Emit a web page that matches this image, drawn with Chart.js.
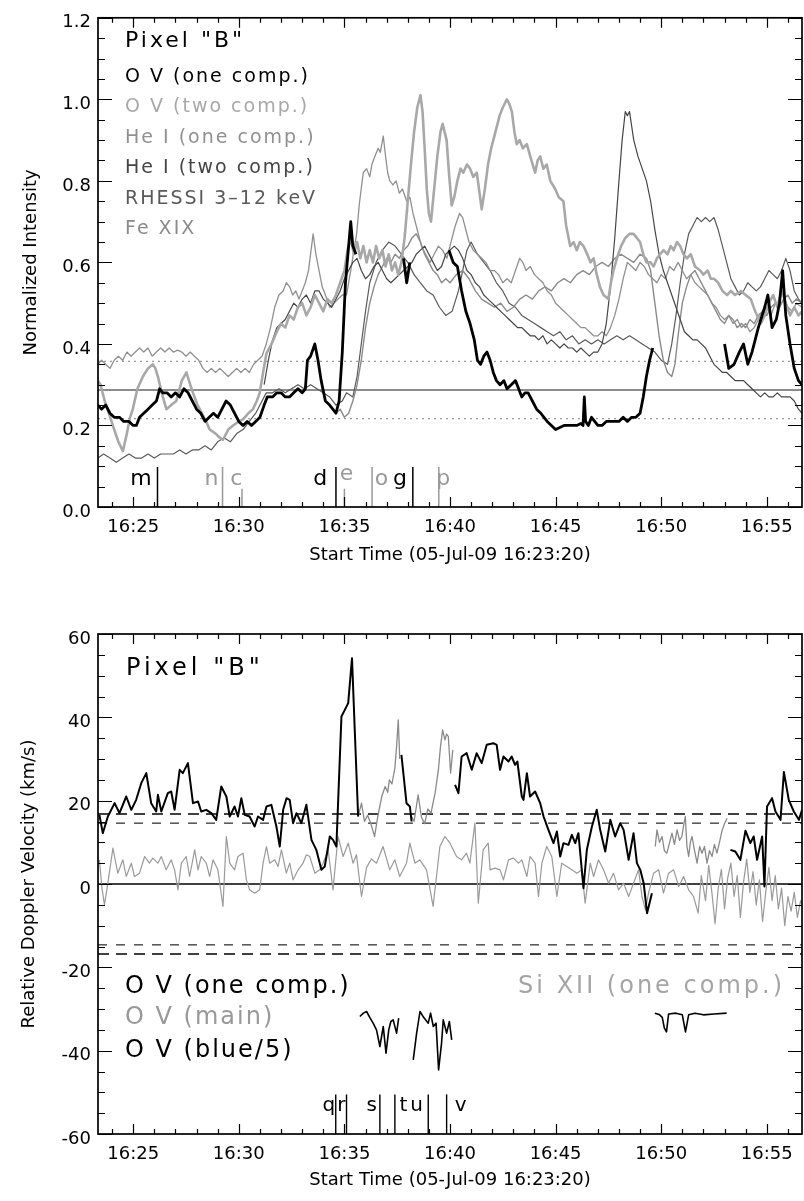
<!DOCTYPE html>
<html><head><meta charset="utf-8">
<script src="https://cdn.jsdelivr.net/npm/chart.js@4.4.1/dist/chart.umd.min.js"></script>
<style>
html,body{margin:0;padding:0;background:#fff;}
#wrap{position:relative;width:804px;height:1201px;overflow:hidden;background:#fff;}
.pane{position:absolute;left:0;}
canvas{display:block;}
</style></head><body>
<div id="wrap">
<div class="pane" style="top:0"><canvas id="topC" width="804" height="600"></canvas></div>
<div class="pane" style="top:600px"><canvas id="botC" width="804" height="601"></canvas></div>
</div>
<script>
// ---------- axis ranges / ticks (minutes after 16:00) ----------
const tStart = 23.333, tEnd = 56.667;
const xMajorTicks = [25,30,35,40,45,50,55];
const xMinorTicks = [24,26,27,28,29,31,32,33,34,36,37,38,39,41,42,43,44,46,47,48,49,51,52,53,54,56];
const xTickLabels = ['16:25','16:30','16:35','16:40','16:45','16:50','16:55'];
const xTitle = 'Start Time (05-Jul-09 16:23:20)';
const topYMajor = [0,0.2,0.4,0.6,0.8,1.0,1.2];
const topYMinor = [0.05,0.1,0.15,0.25,0.3,0.35,0.45,0.5,0.55,0.65,0.7,0.75,0.85,0.9,0.95,1.05,1.1,1.15];
const botYMajor = [-60,-40,-20,0,20,40,60];
const botYMinor = [-55,-50,-45,-35,-30,-25,-15,-10,-5,5,10,15,25,30,35,45,50,55];

// ---------- top panel: normalized intensity ----------
const ovOne = [[23.33,0.25],[23.5,0.24],[23.7,0.25],[23.9,0.23],[24.1,0.22],[24.35,0.22],[24.55,0.21],[24.8,0.21],[25.0,0.20],[25.15,0.20],[25.3,0.22],[25.5,0.23],[25.7,0.24],[25.9,0.25],[26.1,0.26],[26.25,0.29],[26.4,0.28],[26.6,0.28],[26.8,0.27],[27.0,0.28],[27.2,0.27],[27.4,0.29],[27.6,0.28],[27.8,0.26],[28.0,0.24],[28.2,0.23],[28.4,0.21],[28.6,0.22],[28.8,0.23],[29.0,0.22],[29.2,0.24],[29.4,0.26],[29.6,0.25],[29.8,0.23],[30.0,0.21],[30.2,0.20],[30.4,0.21],[30.6,0.20],[30.8,0.21],[31.0,0.22],[31.2,0.25],[31.35,0.27],[31.6,0.27],[31.8,0.28],[32.0,0.28],[32.2,0.27],[32.4,0.27],[32.6,0.28],[32.8,0.29],[33.0,0.28],[33.15,0.29],[33.25,0.36],[33.4,0.37],[33.6,0.40],[33.75,0.36],[33.9,0.31],[34.1,0.26],[34.3,0.25],[34.45,0.24],[34.6,0.23],[34.75,0.26],[34.9,0.38],[35.05,0.55],[35.2,0.64],[35.3,0.70],[35.4,0.64],[35.55,0.62],[35.6,null],[37.8,0.61],[37.95,0.55],[38.1,0.60],[38.15,null],[39.95,0.63],[40.15,0.60],[40.35,0.59],[40.55,0.53],[40.75,0.48],[40.95,0.45],[41.15,0.41],[41.3,0.36],[41.45,0.35],[41.6,0.37],[41.75,0.38],[41.9,0.36],[42.05,0.33],[42.2,0.31],[42.37,0.30],[42.55,0.31],[42.7,0.29],[42.9,0.30],[43.1,0.31],[43.25,0.29],[43.4,0.27],[43.55,0.28],[43.7,0.28],[43.9,0.26],[44.1,0.24],[44.3,0.23],[44.45,0.22],[44.6,0.21],[44.8,0.20],[45.0,0.19],[45.2,0.195],[45.4,0.20],[45.6,0.20],[45.8,0.20],[46.0,0.20],[46.2,0.205],[46.3,0.20],[46.36,0.27],[46.42,0.21],[46.55,0.20],[46.7,0.22],[46.85,0.21],[47.0,0.20],[47.2,0.20],[47.4,0.21],[47.6,0.21],[47.8,0.21],[48.0,0.21],[48.2,0.22],[48.4,0.21],[48.6,0.22],[48.8,0.22],[49.0,0.23],[49.15,0.27],[49.3,0.32],[49.45,0.36],[49.6,0.39],[49.7,null],[53.0,0.40],[53.2,0.34],[53.45,0.35],[53.7,0.38],[53.9,0.40],[54.1,0.35],[54.3,0.38],[54.6,0.44],[54.9,0.49],[55.05,0.52],[55.25,0.44],[55.45,0.46],[55.6,0.50],[55.75,0.58],[55.9,0.47],[56.1,0.40],[56.3,0.34],[56.5,0.31],[56.67,0.30]];

const ovTwo = [[23.33,0.31],[23.45,0.30],[23.65,0.26],[23.88,0.225],[24.1,0.19],[24.3,0.16],[24.51,0.137],[24.7,0.18],[24.85,0.22],[24.98,0.24],[25.2,0.29],[25.46,0.32],[25.7,0.34],[25.93,0.35],[26.05,0.34],[26.17,0.32],[26.35,0.28],[26.57,0.24],[26.8,0.25],[27.04,0.26],[27.3,0.31],[27.52,0.33],[27.7,0.30],[27.83,0.28],[28.05,0.25],[28.3,0.225],[28.45,0.21],[28.62,0.19],[28.9,0.18],[29.1,0.17],[29.25,0.165],[29.5,0.19],[29.73,0.20],[30.0,0.21],[30.2,0.215],[30.45,0.23],[30.67,0.24],[30.85,0.26],[30.99,0.28],[31.15,0.33],[31.31,0.377],[31.55,0.40],[31.8,0.43],[32.0,0.45],[32.2,0.44],[32.4,0.47],[32.6,0.46],[32.8,0.49],[33.0,0.50],[33.2,0.47],[33.4,0.49],[33.6,0.52],[33.8,0.50],[34.0,0.48],[34.2,0.51],[34.4,0.50],[34.6,0.52],[34.8,0.55],[35.0,0.58],[35.15,0.63],[35.3,0.66],[35.45,0.62],[35.6,0.65],[35.75,0.61],[35.9,0.64],[36.05,0.60],[36.2,0.63],[36.35,0.60],[36.5,0.64],[36.65,0.61],[36.8,0.63],[36.95,0.59],[37.1,0.62],[37.25,0.58],[37.4,0.60],[37.55,0.57],[37.7,0.60],[37.85,0.66],[38.0,0.75],[38.15,0.84],[38.3,0.92],[38.45,0.98],[38.6,1.01],[38.7,0.97],[38.8,0.88],[38.9,0.78],[39.0,0.72],[39.1,0.70],[39.25,0.78],[39.4,0.86],[39.55,0.92],[39.65,0.94],[39.84,0.90],[39.95,0.82],[40.08,0.74],[40.2,0.76],[40.35,0.80],[40.5,0.83],[40.63,0.82],[40.8,0.84],[40.95,0.83],[41.1,0.81],[41.27,0.82],[41.4,0.77],[41.5,0.73],[41.65,0.78],[41.8,0.84],[41.95,0.88],[42.05,0.90],[42.2,0.93],[42.35,0.96],[42.5,0.98],[42.69,1.00],[42.8,0.99],[42.93,0.97],[43.05,0.92],[43.16,0.89],[43.3,0.90],[43.45,0.88],[43.64,0.89],[43.8,0.86],[44.03,0.82],[44.15,0.85],[44.27,0.86],[44.42,0.83],[44.58,0.84],[44.75,0.80],[44.98,0.78],[45.15,0.76],[45.37,0.75],[45.5,0.69],[45.69,0.64],[45.85,0.65],[46.0,0.63],[46.15,0.65],[46.32,0.64],[46.5,0.62],[46.65,0.60],[46.8,0.61],[46.95,0.57],[47.1,0.54],[47.27,0.52],[47.5,0.51],[47.62,0.55],[47.74,0.58],[47.9,0.61],[48.1,0.64],[48.3,0.66],[48.5,0.67],[48.69,0.67],[48.85,0.66],[49.0,0.65],[49.15,0.62],[49.3,0.60],[49.5,0.60],[49.64,0.59],[49.8,0.61],[49.95,0.62],[50.11,0.63],[50.3,0.62],[50.45,0.64],[50.59,0.63],[50.75,0.65],[50.9,0.64],[51.05,0.62],[51.22,0.61],[51.4,0.62],[51.6,0.59],[51.85,0.58],[52.0,0.57],[52.2,0.58],[52.35,0.56],[52.5,0.56],[52.7,0.55],[52.9,0.53],[53.12,0.52],[53.3,0.53],[53.5,0.52],[53.77,0.53],[54.0,0.52],[54.24,0.51],[54.45,0.48],[54.72,0.45],[54.9,0.47],[55.1,0.50],[55.3,0.52],[55.5,0.49],[55.7,0.53],[55.9,0.50],[56.1,0.47],[56.3,0.49],[56.5,0.47],[56.67,0.48]];

const heOne = [[23.33,0.35],[23.5,0.36],[23.7,0.35],[23.9,0.34],[24.1,0.36],[24.3,0.37],[24.5,0.36],[24.7,0.38],[24.9,0.37],[25.1,0.38],[25.3,0.39],[25.5,0.38],[25.7,0.39],[25.9,0.37],[26.1,0.38],[26.3,0.39],[26.5,0.38],[26.7,0.39],[26.9,0.38],[27.1,0.385],[27.3,0.38],[27.5,0.37],[27.7,0.38],[27.9,0.37],[28.1,0.36],[28.3,0.34],[28.5,0.33],[28.7,0.34],[28.9,0.33],[29.1,0.34],[29.3,0.33],[29.5,0.32],[29.7,0.33],[29.9,0.34],[30.1,0.33],[30.3,0.34],[30.5,0.33],[30.7,0.35],[30.9,0.36],[31.1,0.37],[31.3,0.40],[31.5,0.44],[31.7,0.49],[31.9,0.52],[32.1,0.53],[32.25,0.55],[32.41,0.54],[32.55,0.52],[32.7,0.53],[32.85,0.51],[33.0,0.53],[33.15,0.55],[33.3,0.58],[33.52,0.67],[33.65,0.62],[33.8,0.58],[33.95,0.54],[34.1,0.52],[34.31,0.49],[34.5,0.50],[34.7,0.51],[34.9,0.52],[35.1,0.52],[35.3,0.58],[35.45,0.63],[35.58,0.67],[35.7,0.74],[35.89,0.82],[36.05,0.83],[36.2,0.81],[36.3,0.84],[36.44,0.86],[36.6,0.88],[36.7,0.87],[36.84,0.91],[36.95,0.86],[37.05,0.82],[37.15,0.80],[37.3,0.79],[37.45,0.80],[37.6,0.77],[37.75,0.78],[37.95,0.75],[38.1,0.76],[38.25,0.72],[38.45,0.68],[38.65,0.64],[38.85,0.62],[39.05,0.60],[39.25,0.62],[39.45,0.64],[39.65,0.63],[39.85,0.61],[40.05,0.65],[40.25,0.69],[40.45,0.72],[40.6,0.71],[40.75,0.68],[40.9,0.65],[41.1,0.63],[41.3,0.62],[41.5,0.61],[41.7,0.60],[41.9,0.58],[42.1,0.58],[42.3,0.57],[42.5,0.55],[42.7,0.56],[42.9,0.55],[43.1,0.58],[43.3,0.61],[43.45,0.60],[43.6,0.58],[43.8,0.59],[44.0,0.57],[44.2,0.56],[44.4,0.55],[44.6,0.53],[44.8,0.52],[45.0,0.50],[45.2,0.49],[45.4,0.48],[45.6,0.47],[45.8,0.46],[46.0,0.45],[46.2,0.44],[46.4,0.44],[46.6,0.43],[46.8,0.42],[47.0,0.42],[47.2,0.43],[47.4,0.42],[47.6,0.44],[47.8,0.47],[48.0,0.51],[48.2,0.56],[48.4,0.60],[48.6,0.59],[48.8,0.58],[49.0,0.60],[49.2,0.59],[49.4,0.57],[49.6,0.56],[49.8,0.55],[50.0,0.57],[50.2,0.56],[50.4,0.59],[50.6,0.58],[50.8,0.60],[51.0,0.58],[51.2,0.56],[51.4,0.57],[51.6,0.55],[51.8,0.54],[52.0,0.53],[52.2,0.52],[52.4,0.50],[52.6,0.49],[52.8,0.47],[53.0,0.46],[53.2,0.47],[53.4,0.45],[53.6,0.46],[53.8,0.44],[54.0,0.45],[54.2,0.43],[54.4,0.44],[54.6,0.46],[54.8,0.48],[55.0,0.49],[55.2,0.47],[55.4,0.50],[55.6,0.49],[55.8,0.51],[56.0,0.49],[56.2,0.48],[56.4,0.50],[56.67,0.49]];

const heTwo = [[31.2,0.30],[31.4,0.36],[31.6,0.41],[31.8,0.44],[32.0,0.45],[32.2,0.46],[32.4,0.48],[32.6,0.50],[32.8,0.49],[33.0,0.51],[33.2,0.52],[33.4,0.50],[33.6,0.53],[33.8,0.53],[34.0,0.51],[34.2,0.50],[34.4,0.49],[34.6,0.51],[34.8,0.53],[35.0,0.56],[35.2,0.58],[35.4,0.60],[35.6,0.61],[35.8,0.58],[36.0,0.56],[36.2,0.57],[36.4,0.59],[36.6,0.60],[36.8,0.58],[37.0,0.56],[37.2,0.55],[37.4,0.56],[37.6,0.57],[37.8,0.58],[38.0,0.59],[38.2,0.60],[38.4,0.62],[38.6,0.63],[38.8,0.64],[39.0,0.62],[39.2,0.60],[39.4,0.58],[39.6,0.59],[39.8,0.62],[40.0,0.63],[40.2,0.64],[40.4,0.63],[40.6,0.61],[40.8,0.58],[41.0,0.57],[41.2,0.55],[41.4,0.54],[41.6,0.52],[41.8,0.51],[42.0,0.50],[42.2,0.49],[42.4,0.48],[42.6,0.47],[42.8,0.46],[43.0,0.45],[43.2,0.44],[43.4,0.44],[43.6,0.43],[43.8,0.42],[44.0,0.42],[44.2,0.41],[44.4,0.42],[44.6,0.40],[44.8,0.41],[45.0,0.40],[45.2,0.39],[45.4,0.40],[45.6,0.39],[45.8,0.39],[46.0,0.38],[46.2,0.39],[46.4,0.38],[46.6,0.37],[46.8,0.38],[47.0,0.38],[47.2,0.40],[47.4,0.45],[47.6,0.54],[47.8,0.66],[48.0,0.80],[48.15,0.90],[48.3,0.97],[48.4,0.96],[48.5,0.97],[48.7,0.90],[48.9,0.86],[49.1,0.83],[49.3,0.80],[49.5,0.75],[49.7,0.68],[49.9,0.62],[50.1,0.58],[50.3,0.55],[50.5,0.52],[50.7,0.49],[50.9,0.46],[51.1,0.43],[51.3,0.42],[51.5,0.41],[51.7,0.41],[51.9,0.40],[52.1,0.39],[52.3,0.37],[52.5,0.35],[52.7,0.34],[52.9,0.33],[53.1,0.33],[53.3,0.32],[53.5,0.31],[53.7,0.31],[53.9,0.31],[54.1,0.30],[54.3,0.29],[54.5,0.28],[54.7,0.27],[54.9,0.28],[55.1,0.27],[55.3,0.27],[55.5,0.28],[55.7,0.27],[55.9,0.27],[56.1,0.27],[56.3,0.26],[56.5,0.24],[56.67,0.23]];

const rhessi = [[23.33,0.12],[23.6,0.13],[23.9,0.12],[24.2,0.11],[24.5,0.12],[24.8,0.13],[25.1,0.12],[25.4,0.12],[25.7,0.13],[26.0,0.12],[26.3,0.13],[26.6,0.13],[26.9,0.13],[27.2,0.14],[27.5,0.13],[27.8,0.14],[28.1,0.14],[28.4,0.15],[28.7,0.14],[29.0,0.16],[29.3,0.17],[29.6,0.16],[29.9,0.18],[30.2,0.19],[30.5,0.21],[30.8,0.23],[31.1,0.26],[31.3,0.28],[31.6,0.28],[31.9,0.29],[32.2,0.28],[32.5,0.29],[32.8,0.30],[33.1,0.29],[33.4,0.30],[33.7,0.29],[34.0,0.28],[34.3,0.27],[34.6,0.25],[34.9,0.26],[35.1,0.28],[35.4,0.27],[35.6,0.32],[35.8,0.40],[36.0,0.48],[36.2,0.55],[36.5,0.60],[36.8,0.63],[37.1,0.65],[37.4,0.64],[37.7,0.62],[38.0,0.60],[38.3,0.57],[38.6,0.55],[38.9,0.53],[39.2,0.52],[39.5,0.49],[39.8,0.47],[40.1,0.48],[40.4,0.53],[40.6,0.58],[40.8,0.63],[41.0,0.65],[41.3,0.62],[41.6,0.60],[41.9,0.58],[42.2,0.55],[42.5,0.53],[42.8,0.50],[43.1,0.49],[43.4,0.47],[43.7,0.46],[44.0,0.45],[44.3,0.44],[44.6,0.43],[44.9,0.42],[45.2,0.43],[45.5,0.41],[45.8,0.42],[46.1,0.40],[46.4,0.41],[46.7,0.40],[47.0,0.41],[47.3,0.40],[47.6,0.41],[47.9,0.42],[48.2,0.41],[48.5,0.42],[48.8,0.41],[49.1,0.40],[49.4,0.39],[49.7,0.38],[50.0,0.36],[50.3,0.35],[50.5,0.40],[50.7,0.47],[50.9,0.55],[51.1,0.62],[51.3,0.67],[51.5,0.69],[51.7,0.71],[51.9,0.70],[52.1,0.71],[52.3,0.70],[52.5,0.71],[52.7,0.68],[52.9,0.64],[53.1,0.60],[53.3,0.56],[53.5,0.54],[53.7,0.52],[53.9,0.53],[54.1,0.55],[54.3,0.54],[54.5,0.53],[54.7,0.54],[54.9,0.56],[55.1,0.58],[55.3,0.57],[55.5,0.56],[55.7,0.58],[55.9,0.61],[56.1,0.58],[56.3,0.53],[56.5,0.51],[56.67,0.50]];

const feXIX = [[34.6,0.23],[34.8,0.24],[35.0,0.22],[35.2,0.23],[35.4,0.26],[35.6,0.30],[35.8,0.36],[36.0,0.44],[36.2,0.50],[36.4,0.54],[36.6,0.57],[36.8,0.59],[37.0,0.61],[37.2,0.60],[37.4,0.62],[37.6,0.61],[37.8,0.63],[38.0,0.64],[38.2,0.66],[38.4,0.67],[38.6,0.65],[38.8,0.62],[39.0,0.60],[39.2,0.58],[39.4,0.57],[39.6,0.55],[39.8,0.56],[40.0,0.55],[40.3,0.57],[40.6,0.58],[40.9,0.56],[41.2,0.53],[41.5,0.51],[41.8,0.50],[42.1,0.49],[42.4,0.50],[42.7,0.48],[43.0,0.49],[43.3,0.51],[43.6,0.52],[43.9,0.51],[44.2,0.53],[44.5,0.54],[44.8,0.53],[45.1,0.55],[45.4,0.56],[45.7,0.55],[46.0,0.57],[46.3,0.58],[46.6,0.57],[46.9,0.59],[47.2,0.60],[47.5,0.59],[47.8,0.61],[48.1,0.62],[48.4,0.61],[48.7,0.60],[49.0,0.62],[49.3,0.61],[49.5,0.58],[49.7,0.50],[49.9,0.42],[50.1,0.36],[50.3,0.33],[50.5,0.32],[50.65,0.35],[50.8,0.42],[51.0,0.50],[51.2,0.54],[51.4,0.57],[51.6,0.58],[51.8,0.56],[52.0,0.54],[52.2,0.52],[52.4,0.50],[52.6,0.48],[52.8,0.46],[53.0,0.45],[53.2,0.47],[53.4,0.46],[53.6,0.44],[53.8,0.45],[54.0,0.44],[54.2,0.46],[54.4,0.45],[54.6,0.47],[54.8,0.48],[55.0,0.47],[55.2,0.49],[55.4,0.50],[55.6,0.49],[55.8,0.51],[56.0,0.52],[56.2,0.50],[56.4,0.51],[56.67,0.50]];

const topMeanLevel = [0.287];
const topSigmaLevels = [0.357, 0.217];

const topMarkLabels = ['m','n','c','d','e','o','g','p'];
const topMarkLabelT = [25.37,28.70,29.88,33.85,35.10,36.76,37.63,39.68];
const topMarkLabelV = [0.053,0.053,0.053,0.053,0.066,0.053,0.053,0.053];
const topMarkLineT = [26.15,29.23,30.15,34.60,35.00,36.31,38.24,39.47];
const topMarkLineTop = [0.098,0.098,0.045,0.098,0.045,0.098,0.098,0.098];

const topLegend = ['O V (one comp.)','O V (two comp.)','He I (one comp.)','He I (two comp.)','RHESSI 3\u201312 keV','Fe XIX'];

// ---------- bottom panel: Doppler velocity ----------
const velOne = [[23.40,16.6],[23.56,12.2],[23.80,16.2],[24.12,19.4],[24.35,17.0],[24.67,21.0],[24.91,17.8],[25.14,20.2],[25.38,24.2],[25.62,26.6],[25.85,19.4],[26.09,17.4],[26.17,21.4],[26.33,17.4],[26.64,21.8],[26.80,22.2],[26.96,17.8],[27.20,27.4],[27.35,26.6],[27.59,29.0],[27.83,19.4],[28.07,19.8],[28.22,17.4],[28.46,17.8],[28.70,17.0],[28.93,15.4],[29.17,23.4],[29.41,21.0],[29.57,16.2],[29.80,18.6],[29.96,16.2],[30.12,20.6],[30.28,16.6],[30.51,16.2],[30.75,13.8],[30.91,16.2],[31.15,15.4],[31.31,18.6],[31.54,19.0],[31.78,13.8],[31.94,9.0],[32.10,17.8],[32.26,20.6],[32.41,20.2],[32.57,14.6],[32.73,17.0],[32.96,14.6],[33.20,19.0],[33.44,10.6],[33.67,8.2],[33.91,3.4],[34.07,4.2],[34.31,11.4],[34.46,10.6],[34.62,9.0],[34.86,40.2],[35.02,41.8],[35.18,43.4],[35.36,54.2],[35.49,37.0],[35.65,16.2],[35.7,null],[37.70,31.0],[37.94,19.4],[38.10,18.6],[38.18,15.0],[38.2,null],[40.24,23.8],[40.40,21.8],[40.55,30.6],[40.79,31.4],[41.03,27.4],[41.26,31.4],[41.50,29.0],[41.74,33.4],[42.05,33.8],[42.21,33.4],[42.37,27.4],[42.53,30.6],[42.77,29.4],[42.92,30.6],[43.08,28.6],[43.19,29.4],[43.40,21.0],[43.48,20.2],[43.64,26.6],[43.79,21.0],[44.03,22.2],[44.27,19.4],[44.43,16.2],[44.66,13.0],[44.90,9.8],[45.06,12.6],[45.22,6.6],[45.37,9.8],[45.61,9.4],[45.77,11.8],[45.93,9.8],[46.08,12.2],[46.32,-1.0],[46.48,8.2],[46.72,13.8],[46.95,17.8],[47.11,13.0],[47.35,7.8],[47.59,15.4],[47.82,11.4],[48.06,14.6],[48.22,13.0],[48.46,5.8],[48.69,12.2],[48.85,5.0],[49.01,3.4],[49.17,0.2],[49.33,-7.0],[49.56,-2.2],[49.6,null],[53.28,8.2],[53.51,7.8],[53.75,5.8],[53.99,12.8],[54.22,9.8],[54.38,11.4],[54.54,5.8],[54.78,11.4],[54.89,-0.6],[55.01,18.6],[55.25,20.6],[55.41,17.4],[55.65,15.4],[55.81,26.9],[56.04,20.2],[56.28,17.4],[56.52,15.4],[56.67,17.8]];

const velMain = [[35.65,16.2],[35.81,19.4],[35.95,15.0],[36.1,16.5],[36.27,14.2],[36.43,11.4],[36.58,16.2],[36.77,21.0],[36.93,23.4],[37.05,22.0],[37.13,25.0],[37.25,24.0],[37.39,27.8],[37.47,33.0],[37.55,39.4],[37.62,30.0],[37.66,null],[38.1,17.0],[38.3,15.0],[38.49,21.4],[38.65,16.0],[38.8,14.5],[38.95,18.0],[39.1,17.0],[39.3,22.0],[39.45,27.4],[39.55,33.0],[39.65,37.0],[39.76,34.6],[39.84,36.0],[39.92,35.4],[40.03,26.6],[40.13,32.2],[40.2,null],[49.72,9.0],[49.80,13.0],[49.92,10.0],[50.04,11.4],[50.15,8.0],[50.27,7.4],[50.4,10.0],[50.51,12.2],[50.63,9.5],[50.75,13.0],[50.87,10.5],[50.98,11.4],[51.06,14.0],[51.14,16.2],[51.22,9.0],[51.30,6.6],[51.38,10.0],[51.46,11.4],[51.58,8.0],[51.70,5.0],[51.82,9.0],[51.93,7.4],[52.05,9.0],[52.17,5.0],[52.29,8.0],[52.41,6.6],[52.52,9.5],[52.64,7.4],[52.76,10.0],[52.88,12.8],[53.0,14.5],[53.12,15.8]];

const velBlue = [[35.73,-31.8],[35.9,-31.0],[36.05,-30.6],[36.2,-32.0],[36.36,-33.4],[36.52,-35.0],[36.68,-39.0],[36.84,-34.2],[36.97,-40.6],[37.1,-35.0],[37.2,-33.0],[37.31,-32.6],[37.47,-35.8],[37.57,-32.2],[37.62,null],[38.26,-42.2],[38.42,-35.8],[38.58,-30.6],[38.75,-32.0],[38.97,-33.4],[39.08,-31.0],[39.21,-34.2],[39.34,-33.4],[39.46,-44.6],[39.60,-38.2],[39.68,-32.6],[39.84,-35.8],[39.97,-33.0],[40.08,-37.4],[40.12,null],[49.7,-31.0],[49.9,-31.3],[50.05,-32.0],[50.15,-34.6],[50.25,-35.5],[50.35,-31.2],[50.7,-31.0],[51.0,-31.4],[51.15,-35.5],[51.3,-31.4],[51.6,-31.0],[52.0,-31.4],[52.5,-31.2],[53.1,-31.0]];

const velSi = [[23.40,5.8],[23.52,-1.0],[23.64,-5.0],[23.80,0.2],[24.04,8.6],[24.27,2.6],[24.51,5.8],[24.67,1.8],[24.91,5.0],[25.06,1.8],[25.30,2.6],[25.54,6.6],[25.77,5.0],[25.93,6.2],[26.17,5.0],[26.33,6.6],[26.56,3.4],[26.80,5.8],[26.96,3.4],[27.12,-1.4],[27.28,5.0],[27.51,6.6],[27.67,1.8],[27.91,8.2],[28.07,3.4],[28.22,6.6],[28.46,5.0],[28.62,1.8],[28.78,5.8],[29.01,3.4],[29.25,-5.4],[29.41,11.4],[29.57,5.0],[29.80,3.4],[29.96,6.6],[30.20,7.4],[30.36,1.0],[30.51,-1.4],[30.75,-2.2],[30.99,-1.4],[31.15,5.0],[31.31,9.0],[31.46,5.0],[31.70,5.8],[31.86,4.2],[32.02,8.2],[32.25,2.6],[32.41,5.0],[32.57,1.0],[32.81,3.4],[33.04,5.0],[33.20,7.0],[33.36,6.6],[33.60,2.6],[33.83,3.4],[33.99,5.0],[34.23,8.2],[34.46,-1.4],[34.70,11.4],[34.94,6.6],[35.18,9.8],[35.41,5.0],[35.57,7.0],[35.81,-3.0],[36.05,4.0],[36.28,6.0],[36.52,5.0],[36.83,9.0],[37.15,3.4],[37.39,5.8],[37.62,1.8],[37.94,5.0],[38.10,9.8],[38.34,5.0],[38.57,5.8],[38.89,3.4],[39.20,-5.4],[39.52,9.0],[39.76,11.4],[40.0,9.8],[40.31,6.6],[40.55,5.8],[40.78,7.4],[40.94,5.0],[41.18,14.6],[41.34,-4.6],[41.57,8.2],[41.81,9.8],[41.90,3.4],[42.13,3.8],[42.37,3.4],[42.53,1.0],[42.77,5.8],[43.00,6.2],[43.24,5.0],[43.40,5.8],[43.64,1.8],[43.79,6.6],[44.03,5.0],[44.19,-3.0],[44.35,5.0],[44.58,9.0],[44.82,6.6],[45.06,-3.0],[45.29,5.0],[45.53,4.2],[45.77,3.4],[46.01,2.6],[46.24,3.4],[46.40,-4.6],[46.64,5.0],[46.80,1.8],[47.03,5.8],[47.27,3.4],[47.51,0.2],[47.74,2.6],[47.98,-1.4],[48.22,0.2],[48.46,-3.0],[48.69,0.2],[48.93,3.4],[49.09,-3.0],[49.25,-6.2],[49.40,-2.2],[49.64,2.6],[49.88,3.4],[50.11,-2.2],[50.35,2.6],[50.59,3.4],[50.83,-0.6],[51.06,1.8],[51.30,-1.4],[51.53,-3.0],[51.75,-7.0],[51.9,2.0],[52.1,-4.0],[52.25,4.5],[52.4,-2.0],[52.55,-9.5],[52.7,-1.0],[52.85,3.5],[53.0,-6.0],[53.15,1.5],[53.3,5.0],[53.45,-3.0],[53.6,2.0],[53.75,-8.0],[53.9,0.5],[54.05,6.0],[54.2,-2.0],[54.35,3.0],[54.5,-5.0],[54.65,1.0],[54.8,-9.0],[54.95,-2.0],[55.1,4.0],[55.25,-4.0],[55.4,2.0],[55.55,-6.0],[55.7,-1.0],[55.85,-10.0],[56.0,-3.0],[56.15,-6.5],[56.3,-2.0],[56.45,-8.0],[56.6,-4.0],[56.67,-5.0]];

const botZeroLevel = [0];
const botOuterLevels = [16.8, -16.8];
const botInnerLevels = [14.6, -14.6];

const botMarkLabels = ['q','r','s','t','u','v'];
const botMarkLabelT = [34.26,34.86,36.29,37.79,38.42,40.51];
const botMarkLabelV = -54.5;
const botMarkLineT = [34.59,35.10,36.68,37.39,38.97,39.84];
const botMarkLineTop = -50.5;

const botLegendLeft = ['O V (one comp.)','O V (main)','O V (blue/5)'];
const botLegendRight = 'Si XII (one comp.)';

// ---------- helpers ----------
const FONT = '"DejaVu Sans", "Liberation Sans", sans-serif';
const xy = arr => arr.map(p => ({x: p[0], y: p[1]}));
const hline = v => [{x: tStart, y: v}, {x: tEnd, y: v}];
const line = (data, color, width, extra) => Object.assign({
  data, borderColor: color, borderWidth: width, pointRadius: 0, pointHoverRadius: 0,
  fill: false, tension: 0, spanGaps: false, borderJoinStyle: 'round', borderCapStyle: 'butt'
}, extra || {});

function frameTicks(yMajor, yMinor) {
  return {
    id: 'frameTicks',
    afterDatasetsDraw(chart) {
      const {ctx, chartArea: a, scales: {x, y}} = chart;
      ctx.save();
      ctx.strokeStyle = '#000';
      ctx.lineWidth = 1.2;
      ctx.beginPath();
      const xt = xMajorTicks.map(v => [v, 10]).concat(xMinorTicks.map(v => [v, 5]));
      for (const [v, L] of xt) {
        const px = Math.round(x.getPixelForValue(v)) + 0.5;
        ctx.moveTo(px, a.bottom); ctx.lineTo(px, a.bottom - L);
        ctx.moveTo(px, a.top); ctx.lineTo(px, a.top + L);
      }
      const yt = yMajor.map(v => [v, 14]).concat(yMinor.map(v => [v, 7]));
      for (const [v, L] of yt) {
        const py = Math.round(y.getPixelForValue(v)) + 0.5;
        ctx.moveTo(a.left, py); ctx.lineTo(a.left + L, py);
        ctx.moveTo(a.right, py); ctx.lineTo(a.right - L, py);
      }
      ctx.stroke();
      ctx.lineWidth = 1.7;
      ctx.strokeRect(a.left, a.top, a.right - a.left, a.bottom - a.top);
      ctx.restore();
    }
  };
}

function drawText(ctx, txt, x, y, color, size, spacing, align) {
  ctx.save();
  ctx.font = size + 'px ' + FONT;
  ctx.fillStyle = color;
  ctx.textAlign = align || 'left';
  ctx.textBaseline = 'alphabetic';
  if ('letterSpacing' in ctx) ctx.letterSpacing = (spacing || 0) + 'px';
  ctx.fillText(txt, x, y);
  ctx.restore();
}

function axisCfg(kind, min, max, majors, fitSize, extra) {
  return Object.assign({
    type: 'linear', min, max,
    afterBuildTicks: s => { s.ticks = majors.map(v => ({value: v})); },
    grid: {display: false, drawTicks: false},
    border: {display: false},
    afterFit: s => { if (kind === 'x') s.height = fitSize; else s.width = fitSize; }
  }, extra);
}

// ---------- top chart ----------
const topLegendColors = ['#000000','#a8a8a8','#909090','#454545','#5a5a5a','#8a8a8a'];
const topMarkColors = ['#000','#999','#999','#000','#999','#999','#000','#999'];

const topDatasets = [];
topDatasets.push(line(hline(topMeanLevel[0]), '#8c8c8c', 1.8, {order: 20}));
topSigmaLevels.forEach(v => topDatasets.push(line(hline(v), '#9a9a9a', 1.3, {borderDash: [2, 4], order: 20})));
topMarkLineT.forEach((t, i) => topDatasets.push(line([{x: t, y: 0}, {x: t, y: topMarkLineTop[i]}], topMarkColors[i], 1.5, {order: 15})));
topDatasets.push(line(xy(rhessi), topLegendColors[4], 1.2, {order: 9}));
topDatasets.push(line(xy(feXIX), topLegendColors[5], 1.4, {order: 8}));
topDatasets.push(line(xy(heOne), topLegendColors[2], 1.3, {order: 7}));
topDatasets.push(line(xy(heTwo), topLegendColors[3], 1.2, {order: 6}));
topDatasets.push(line(xy(ovTwo), topLegendColors[1], 2.6, {order: 5}));
topDatasets.push(line(xy(ovOne), topLegendColors[0], 2.8, {order: 1}));

const topText = {
  id: 'topText',
  afterDraw(chart) {
    const {ctx, scales: {x, y}} = chart;
    drawText(ctx, 'Pixel "B"', 125, 47, '#000', 22, 3);
    const base = [82, 112, 143, 173, 204, 234];
    topLegend.forEach((s, i) => drawText(ctx, s, 125, base[i], topLegendColors[i], 19, 2));
    topMarkLabels.forEach((s, i) => drawText(ctx, s, x.getPixelForValue(topMarkLabelT[i]), y.getPixelForValue(topMarkLabelV[i]), topMarkColors[i], 22, 0, 'center'));
  }
};

new Chart(document.getElementById('topC'), {
  type: 'line',
  data: {datasets: topDatasets},
  options: {
    responsive: false, animation: false, events: [],
    layout: {padding: {top: 7, right: 2, left: 0, bottom: 0}},
    plugins: {legend: {display: false}, tooltip: {enabled: false}},
    scales: {
      x: axisCfg('x', tStart, tEnd, xMajorTicks, 93, {
        ticks: {callback: (v) => xTickLabels[xMajorTicks.indexOf(v)], color: '#000', font: {family: FONT, size: 18}, padding: 10, maxRotation: 0, autoSkip: false},
        title: {display: true, text: xTitle, color: '#000', font: {family: FONT, size: 18}, padding: {top: 0, bottom: 34}}
      }),
      y: axisCfg('y', 0, 1.2, topYMajor, 98, {
        ticks: {callback: (v) => v.toFixed(1), color: '#000', font: {family: FONT, size: 18}, padding: 7, labelOffset: 5, autoSkip: false},
        title: {display: true, text: 'Normalized Intensity', color: '#000', font: {family: FONT, size: 18}, padding: {top: 21, bottom: 0}}
      })
    }
  },
  plugins: [frameTicks(topYMajor, topYMinor), topText]
});

// ---------- bottom chart ----------
const botDatasets = [];
botDatasets.push(line(hline(botZeroLevel[0]), '#000', 1.6, {order: 20}));
botOuterLevels.forEach(v => botDatasets.push(line(hline(v), '#000', 1.4, {borderDash: [11, 7], order: 20})));
botInnerLevels.forEach(v => botDatasets.push(line(hline(v), '#444', 1.4, {borderDash: [9, 9], order: 20})));
botMarkLineT.forEach(t => botDatasets.push(line([{x: t, y: -60}, {x: t, y: botMarkLineTop}], '#000', 1.4, {order: 15})));
botDatasets.push(line(xy(velSi), '#9a9a9a', 1.2, {order: 8}));
botDatasets.push(line(xy(velMain), '#8a8a8a', 1.3, {order: 6}));
botDatasets.push(line(xy(velBlue), '#000', 1.6, {order: 3}));
botDatasets.push(line(xy(velOne), '#000', 2.0, {order: 1}));

const botText = {
  id: 'botText',
  afterDraw(chart) {
    const {ctx, scales: {x, y}} = chart;
    drawText(ctx, 'Pixel "B"', 126, 75, '#000', 24, 4);
    const colors = ['#000', '#999', '#000'];
    const base = [393, 424, 457];
    botLegendLeft.forEach((s, i) => drawText(ctx, s, 125, base[i], colors[i], 24, 2));
    drawText(ctx, botLegendRight, 785, 393, '#a5a5a5', 24, 3, 'right');
    botMarkLabels.forEach((s, i) => drawText(ctx, s, x.getPixelForValue(botMarkLabelT[i]), y.getPixelForValue(botMarkLabelV), '#000', 20, 0, 'center'));
  }
};

new Chart(document.getElementById('botC'), {
  type: 'line',
  data: {datasets: botDatasets},
  options: {
    responsive: false, animation: false, events: [],
    layout: {padding: {top: 34, right: 2, left: 0, bottom: 0}},
    plugins: {legend: {display: false}, tooltip: {enabled: false}},
    scales: {
      x: axisCfg('x', tStart, tEnd, xMajorTicks, 67, {
        ticks: {callback: (v) => xTickLabels[xMajorTicks.indexOf(v)], color: '#000', font: {family: FONT, size: 18}, padding: 10, maxRotation: 0, autoSkip: false},
        title: {display: true, text: xTitle, color: '#000', font: {family: FONT, size: 18}, padding: {top: 0, bottom: 10}}
      }),
      y: axisCfg('y', -60, 60, botYMajor, 98, {
        ticks: {callback: (v) => String(v), color: '#000', font: {family: FONT, size: 18}, padding: 7, labelOffset: 5, autoSkip: false},
        title: {display: true, text: 'Relative Doppler Velocity (km/s)', color: '#000', font: {family: FONT, size: 18}, padding: {top: 19, bottom: 0}}
      })
    }
  },
  plugins: [frameTicks(botYMajor, botYMinor), botText]
});
</script>
</body></html>
